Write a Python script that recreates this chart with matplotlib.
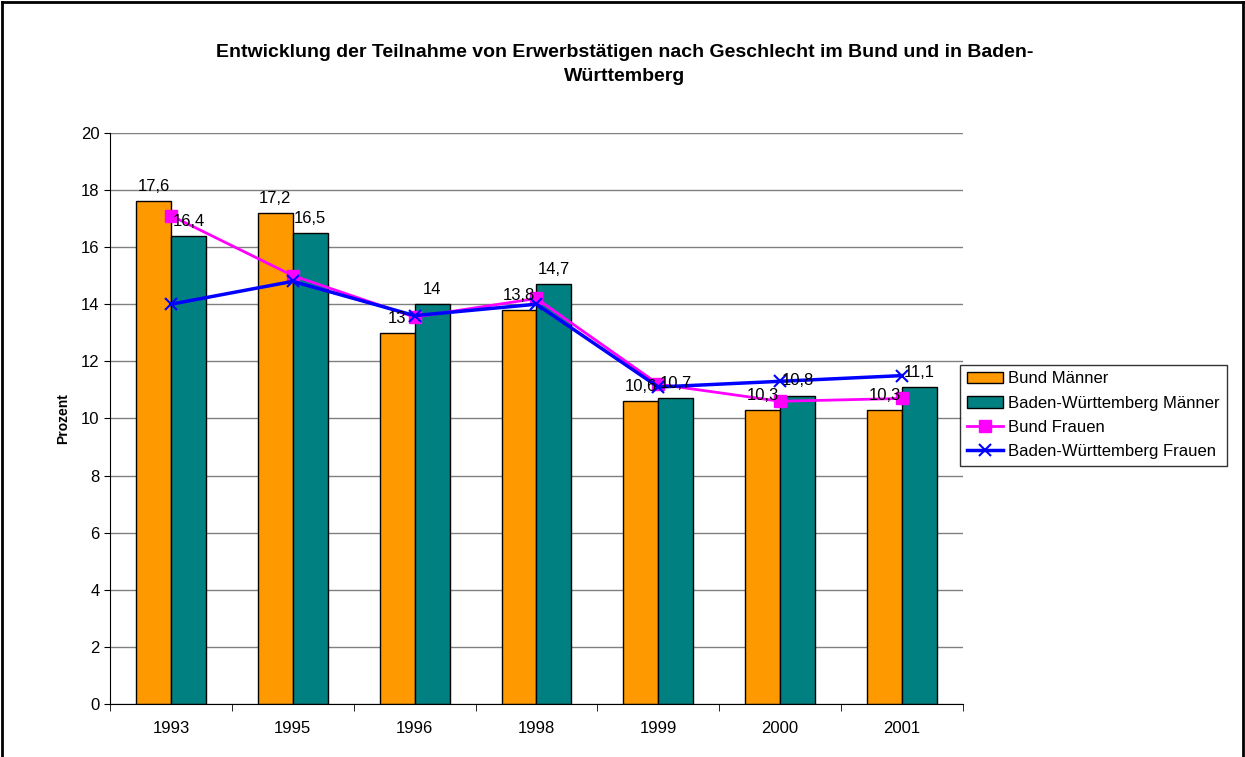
import numpy as np
import matplotlib
matplotlib.use("Agg")
import matplotlib.pyplot as plt
from matplotlib.lines import Line2D

plt.rcParams['font.family'] = ['Liberation Sans', 'DejaVu Sans']

# Daten
jahre = ['1993', '1995', '1996', '1998', '1999', '2000', '2001']
bund_maenner = [17.6, 17.2, 13, 13.8, 10.6, 10.3, 10.3]
bw_maenner = [16.4, 16.5, 14, 14.7, 10.7, 10.8, 11.1]
bund_frauen = [17.1, 15.0, 13.55, 14.2, 11.2, 10.6, 10.7]
bw_frauen = [14.0, 14.8, 13.6, 14.0, 11.1, 11.3, 11.5]

fig = plt.figure(figsize=(12.45, 7.57), dpi=100)
ax = fig.add_axes([0.0884, 0.070, 0.685, 0.7545])

x = np.arange(len(jahre))
w = 0.287

h1 = ax.bar(x - w / 2, bund_maenner, w, color='#FF9900', edgecolor='black',
            linewidth=1, label='Bund Männer', zorder=2)
h2 = ax.bar(x + w / 2, bw_maenner, w, color='#008080', edgecolor='black',
            linewidth=1, label='Baden-Württemberg Männer', zorder=2)

h3, = ax.plot(x, bund_frauen, color='#FF00FF', linewidth=2, marker='s', markersize=8,
              label='Bund Frauen', zorder=3)
h4, = ax.plot(x, bw_frauen, color='#0000FF', linewidth=2.5, marker='x', markersize=8,
              markeredgewidth=1.5, label='Baden-Württemberg Frauen', zorder=4)

# Beschriftungen der Balken
for xi, v in zip(x - w / 2, bund_maenner):
    ax.text(xi, v + 0.25, f"{v:g}".replace('.', ','), ha='center', va='bottom',
            fontsize=12, zorder=5)
for xi, v in zip(x + w / 2, bw_maenner):
    ax.text(xi, v + 0.25, f"{v:g}".replace('.', ','), ha='center', va='bottom',
            fontsize=12, zorder=5)

ax.set_xlim(-0.5, len(jahre) - 0.5)
ax.set_ylim(0, 20)
ax.set_yticks(range(0, 21, 2))
ax.set_xticks(x)
ax.set_xticklabels(jahre, fontsize=12)
ax.set_xticks(np.arange(-0.5, len(jahre), 1), minor=True)
ax.tick_params(axis='x', which='major', length=0, pad=12)
ax.tick_params(axis='x', which='minor', length=5, direction='out')
ax.tick_params(axis='y', labelsize=12, length=4, direction='out')
ax.grid(axis='y', color='#808080', linewidth=1, zorder=0)
ax.set_axisbelow(True)
for s in ['top', 'right']:
    ax.spines[s].set_visible(False)
ax.spines['left'].set_color('black')
ax.spines['bottom'].set_color('black')
ax.set_ylabel('Prozent', fontsize=10, fontweight='bold', labelpad=8)

fig.text(0.502, 0.915,
         'Entwicklung der Teilnahme von Erwerbstätigen nach Geschlecht im Bund und in Baden-\nWürttemberg',
         ha='center', va='center', fontsize=14, fontweight='bold', linespacing=1.55)

leg = ax.legend(handles=[h1, h2, h3, h4], loc='upper left', bbox_to_anchor=(0.9965, 0.594),
                fontsize=12, frameon=True, fancybox=False, edgecolor='black', borderpad=0.4,
                labelspacing=0.55, handlelength=2.2, handletextpad=0.3,
                borderaxespad=0)
leg.get_frame().set_linewidth(1)

# Rahmen
fig.add_artist(Line2D([0.002, 0.998], [0.997, 0.997], color='black', linewidth=2, transform=fig.transFigure))
fig.add_artist(Line2D([0.002, 0.002], [0.0, 0.997], color='black', linewidth=2, transform=fig.transFigure))
fig.add_artist(Line2D([0.998, 0.998], [0.0, 0.997], color='black', linewidth=2, transform=fig.transFigure))

fig.savefig('out.png', dpi=100)
